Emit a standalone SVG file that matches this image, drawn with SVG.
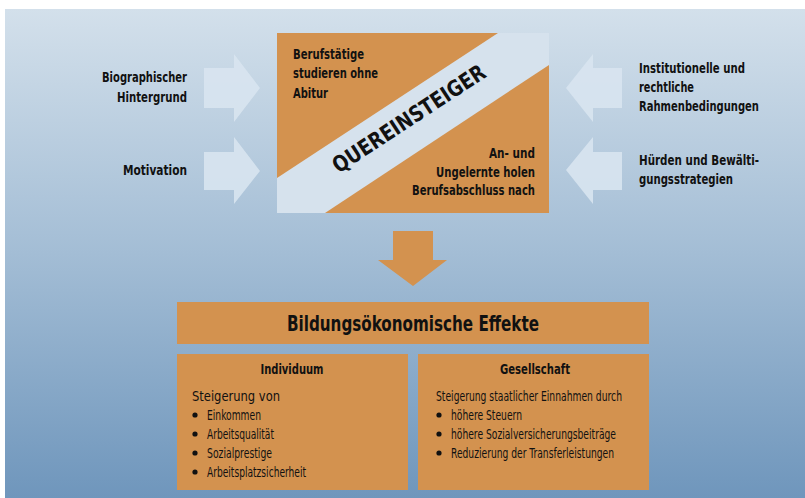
<svg xmlns="http://www.w3.org/2000/svg" width="805" height="498" viewBox="0 0 805 498">
<defs>
<linearGradient id="bg" x1="0" y1="0" x2="0" y2="1">
<stop offset="0" stop-color="#d3e0eb"/>
<stop offset="0.5" stop-color="#a3bdd5"/>
<stop offset="1" stop-color="#6f96bc"/>
</linearGradient>
<style>
.t{font-family:"Liberation Sans Narrow","DejaVu Sans Condensed","Liberation Sans",sans-serif;fill:#111;}
.b{font-weight:bold;font-size:14.5px;}
.r{font-size:14px;}
.org{fill:#d3924f;}
.lt{fill:#d6e2ed;}
.la{fill:#d8e4ef;opacity:0.9;}
</style>
</defs>
<rect x="0" y="0" width="805" height="498" fill="#ffffff"/>
<rect x="5" y="9" width="800" height="489" fill="url(#bg)"/>

<g id="connectors">
<polygon class="la" points="204,68 234,68 234,54 260,88 234,122 234,108 204,108"/>
<polygon class="la" points="204,152 234,152 234,137 260,171 234,204 234,190 204,190"/>
<polygon class="la" points="622,68 593,68 593,54 566,88 593,122 593,108 622,108"/>
<polygon class="la" points="622,152 593,152 593,137 566,170 593,204 593,190 622,190"/>
<polygon class="org" points="393,231 433,231 433,260 447,260 413,286 378,260 393,260"/>
</g>

<g id="left-labels">
<text class="t b" x="187" y="82" text-anchor="end" textLength="85" lengthAdjust="spacingAndGlyphs">Biographischer</text>
<text class="t b" x="187" y="102" text-anchor="end" textLength="70" lengthAdjust="spacingAndGlyphs">Hintergrund</text>
<text class="t b" x="187" y="175" text-anchor="end" textLength="64" lengthAdjust="spacingAndGlyphs">Motivation</text>
</g>

<g id="right-labels">
<text class="t b" x="639" y="73" textLength="106" lengthAdjust="spacingAndGlyphs">Institutionelle und</text>
<text class="t b" x="639" y="92" textLength="55" lengthAdjust="spacingAndGlyphs">rechtliche</text>
<text class="t b" x="639" y="111" textLength="120" lengthAdjust="spacingAndGlyphs">Rahmenbedingungen</text>
<text class="t b" x="639" y="165" textLength="120" lengthAdjust="spacingAndGlyphs">Hürden und Bewälti-</text>
<text class="t b" x="639" y="184" textLength="94" lengthAdjust="spacingAndGlyphs">gungsstrategien</text>
</g>

<g id="quereinsteiger">
<rect class="org" x="277" y="33" width="272" height="180"/>
<polygon class="lt" points="498,33 549,33 549,65 325,213 277,213 277,178"/>
<text class="t b" x="293" y="59" textLength="71" lengthAdjust="spacingAndGlyphs">Berufstätige</text>
<text class="t b" x="293" y="78" textLength="85" lengthAdjust="spacingAndGlyphs">studieren ohne</text>
<text class="t b" x="293" y="98" textLength="35" lengthAdjust="spacingAndGlyphs">Abitur</text>
<text class="t b" x="535" y="158" text-anchor="end" textLength="46" lengthAdjust="spacingAndGlyphs">An- und</text>
<text class="t b" x="535" y="177" text-anchor="end" textLength="99" lengthAdjust="spacingAndGlyphs">Ungelernte holen</text>
<text class="t b" x="535" y="195" text-anchor="end" textLength="123" lengthAdjust="spacingAndGlyphs">Berufsabschluss nach</text>
<text class="t" font-weight="bold" font-size="22" x="0" y="0" text-anchor="middle" textLength="178" lengthAdjust="spacingAndGlyphs" transform="translate(413,125) rotate(-33.2)">QUEREINSTEIGER</text>
</g>

<g id="effekte">
<rect class="org" x="177" y="302" width="472" height="42"/>
<text class="t" font-weight="bold" font-size="22" x="413" y="331" text-anchor="middle" textLength="252" lengthAdjust="spacingAndGlyphs">Bildungsökonomische Effekte</text>
</g>

<g id="individuum">
<rect class="org" x="177" y="354" width="231" height="136"/>
<text class="t b" x="292" y="374" text-anchor="middle" textLength="63" lengthAdjust="spacingAndGlyphs">Individuum</text>
<text class="t r" x="192" y="401" textLength="88" lengthAdjust="spacingAndGlyphs">Steigerung von</text>
<circle cx="195" cy="415" r="2.6" fill="#111"/>
<text class="t r" x="207" y="420" textLength="54" lengthAdjust="spacingAndGlyphs">Einkommen</text>
<circle cx="195" cy="434" r="2.6" fill="#111"/>
<text class="t r" x="207" y="439" textLength="67" lengthAdjust="spacingAndGlyphs">Arbeitsqualität</text>
<circle cx="195" cy="453" r="2.6" fill="#111"/>
<text class="t r" x="207" y="458" textLength="65" lengthAdjust="spacingAndGlyphs">Sozialprestige</text>
<circle cx="195" cy="472" r="2.6" fill="#111"/>
<text class="t r" x="207" y="477" textLength="99" lengthAdjust="spacingAndGlyphs">Arbeitsplatzsicherheit</text>
</g>

<g id="gesellschaft">
<rect class="org" x="418" y="354" width="231" height="136"/>
<text class="t b" x="535" y="374" text-anchor="middle" textLength="70" lengthAdjust="spacingAndGlyphs">Gesellschaft</text>
<text class="t r" x="436" y="401" textLength="186" lengthAdjust="spacingAndGlyphs">Steigerung staatlicher Einnahmen durch</text>
<circle cx="439" cy="415" r="2.6" fill="#111"/>
<text class="t r" x="451" y="420" textLength="71" lengthAdjust="spacingAndGlyphs">höhere Steuern</text>
<circle cx="439" cy="434" r="2.6" fill="#111"/>
<text class="t r" x="451" y="439" textLength="165" lengthAdjust="spacingAndGlyphs">höhere Sozialversicherungsbeiträge</text>
<circle cx="439" cy="453" r="2.6" fill="#111"/>
<text class="t r" x="451" y="458" textLength="163" lengthAdjust="spacingAndGlyphs">Reduzierung der Transferleistungen</text>
</g>
</svg>
